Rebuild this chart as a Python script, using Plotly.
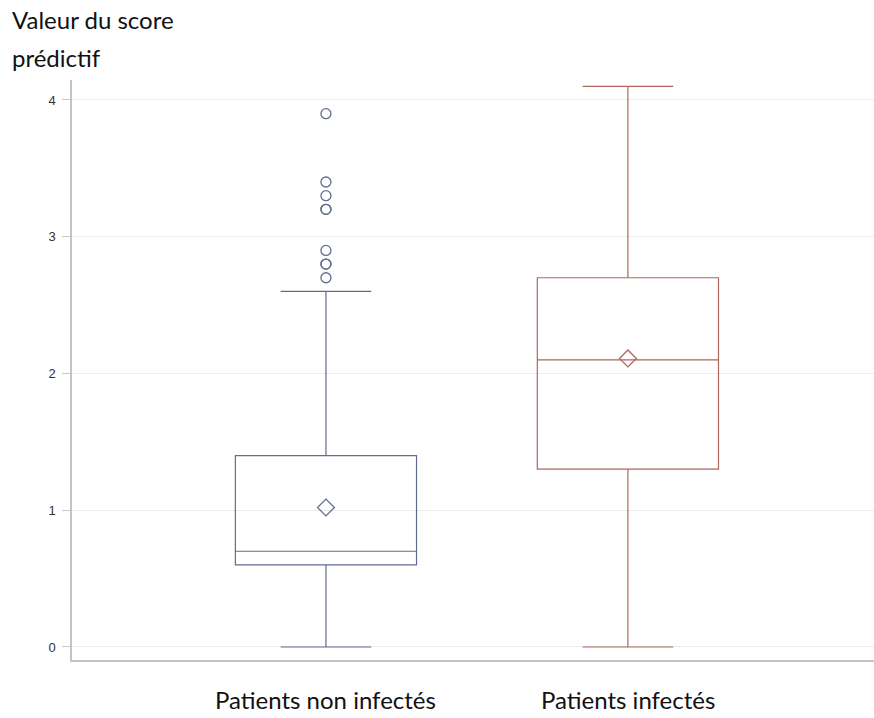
import plotly.graph_objects as go

groups = ["Patients non infectés", "Patients infectés"]
x_pos = [0, 1]
lower = [0.0, 0.0]
q1 = [0.6, 1.3]
median = [0.7, 2.1]
q3 = [1.4, 2.7]
upper = [2.6, 4.1]
means = [1.02, 2.11]
outliers_g1 = [2.7, 2.8, 2.8, 2.9, 3.2, 3.2, 3.3, 3.4, 3.9]
y_ticks = [0, 1, 2, 3, 4]
colors = ["#616c90", "#b0675b"]

fig = go.Figure()
for i in range(2):
    fig.add_trace(go.Box(
        x=[x_pos[i]], q1=[q1[i]], median=[median[i]], q3=[q3[i]],
        lowerfence=[lower[i]], upperfence=[upper[i]],
        width=0.6, whiskerwidth=0.5,
        line=dict(color=colors[i], width=1.2),
        fillcolor="rgba(0,0,0,0)", boxpoints=False, showlegend=False,
        hoverinfo="skip"))
    fig.add_trace(go.Scatter(
        x=[x_pos[i]], y=[means[i]], mode="markers",
        marker=dict(symbol="diamond-open", size=13, color=colors[i],
                    line=dict(width=1.3, color=colors[i])),
        showlegend=False))

fig.add_trace(go.Scatter(
    x=[x_pos[0]] * len(outliers_g1), y=outliers_g1, mode="markers",
    marker=dict(symbol="circle-open", size=10, color=colors[0],
                line=dict(width=1.3, color=colors[0])),
    showlegend=False))

label_font = dict(family="Lato, Open Sans, sans-serif", size=24, color="#111")
annotations = []
for i, g in enumerate(groups):
    annotations.append(dict(
        x=x_pos[i], y=0, xref="x", yref="paper", text=g, showarrow=False,
        xanchor="center", yanchor="bottom", yshift=-56, font=label_font))
annotations.append(dict(
    x=0, y=1, xref="paper", yref="paper", text="Valeur du score",
    showarrow=False, xanchor="left", yanchor="top", xshift=-62, yshift=77,
    font=label_font))
annotations.append(dict(
    x=0, y=1, xref="paper", yref="paper", text="prédictif",
    showarrow=False, xanchor="left", yanchor="top", xshift=-62, yshift=39,
    font=label_font))

fig.update_layout(
    width=874, height=718,
    margin=dict(l=72, r=0, t=80, b=58),
    plot_bgcolor="white", paper_bgcolor="white",
    annotations=annotations,
    xaxis=dict(range=[-0.841, 1.815], showticklabels=False, ticks="",
               showgrid=False, zeroline=False, showline=True,
               linecolor="#c4c4c4", linewidth=1.5),
    yaxis=dict(range=[-0.0951, 4.146], tickvals=y_ticks,
               ticks="outside", ticklen=8, tickcolor="#c4c4c4",
               ticklabelstandoff=4,
               showgrid=True, gridcolor="#ececec", gridwidth=1,
               zeroline=False, showline=True, linecolor="#c4c4c4", linewidth=1.5,
               tickfont=dict(family="Liberation Sans, Arial", size=13, color="#333")),
)

fig.write_html("out.html", config={"displayModeBar": False},
               post_script="document.body.style.margin='0';document.body.style.overflow='hidden';")
